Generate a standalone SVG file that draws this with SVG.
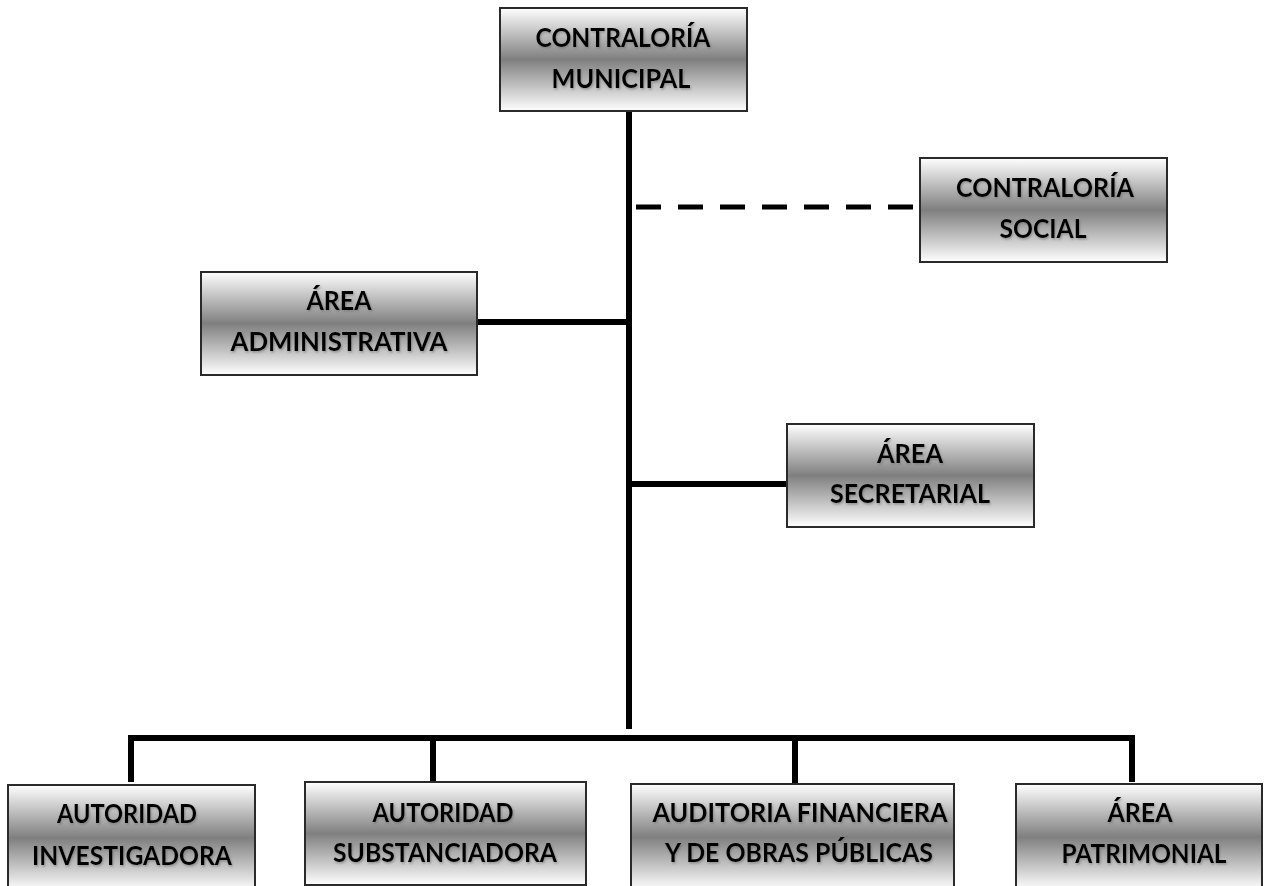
<svg xmlns="http://www.w3.org/2000/svg" width="1264" height="886" viewBox="0 0 1264 886">
<defs>
<linearGradient id="g" x1="0" y1="0" x2="0" y2="1">
<stop offset="0" stop-color="#ffffff"/>
<stop offset="0.5" stop-color="#7f7f7f"/>
<stop offset="1" stop-color="#ffffff"/>
</linearGradient>
<filter id="ts" x="-5%" y="-20%" width="110%" height="140%">
<feDropShadow dx="1" dy="1.5" stdDeviation="0.8" flood-color="#666" flood-opacity="0.55"/>
</filter>
</defs>
<style>
.box{fill:url(#g);stroke:#2a2a2a;stroke-width:2}
.t{font-family:Lato,"Open Sans","Liberation Sans",sans-serif;font-weight:bold;font-size:27px;fill:#000;text-anchor:middle;filter:url(#ts)}
.ln{stroke:#000;stroke-width:6;fill:none}
.dash{stroke:#000;stroke-width:5;fill:none;stroke-dasharray:25 17}
</style>
<rect width="1264" height="886" fill="#ffffff"/>
<g id="connectors">
<line class="ln" x1="629" y1="110" x2="629" y2="729"/>
<line class="dash" x1="636" y1="207" x2="920" y2="207"/>
<line class="ln" x1="477" y1="322" x2="629" y2="322"/>
<line class="ln" x1="629" y1="484" x2="787" y2="484"/>
<polyline class="ln" points="131,782 131,738 1132,738 1132,782"/>
<line class="ln" x1="433" y1="738" x2="433" y2="782"/>
<line class="ln" x1="795" y1="738" x2="795" y2="784"/>
</g>
<g id="contraloria-municipal">
<rect class="box" x="500" y="8" width="247" height="103"/>
<text class="t" x="623" y="47" textLength="175" lengthAdjust="spacingAndGlyphs">CONTRALORÍA</text>
<text class="t" x="621" y="88" textLength="139" lengthAdjust="spacingAndGlyphs">MUNICIPAL</text>
</g>
<g id="contraloria-social">
<rect class="box" x="920" y="158" width="247" height="104"/>
<text class="t" x="1045" y="197" textLength="178" lengthAdjust="spacingAndGlyphs">CONTRALORÍA</text>
<text class="t" x="1043" y="238" textLength="87" lengthAdjust="spacingAndGlyphs">SOCIAL</text>
</g>
<g id="area-administrativa">
<rect class="box" x="201" y="272" width="276" height="103"/>
<text class="t" x="339" y="310" textLength="65" lengthAdjust="spacingAndGlyphs">ÁREA</text>
<text class="t" x="339" y="351" textLength="217" lengthAdjust="spacingAndGlyphs">ADMINISTRATIVA</text>
</g>
<g id="area-secretarial">
<rect class="box" x="787" y="424" width="247" height="103"/>
<text class="t" x="910" y="463" textLength="66" lengthAdjust="spacingAndGlyphs">ÁREA</text>
<text class="t" x="910" y="503" textLength="160" lengthAdjust="spacingAndGlyphs">SECRETARIAL</text>
</g>
<g id="autoridad-investigadora">
<rect class="box" x="8" y="785" width="247" height="106"/>
<text class="t" x="127" y="823" textLength="140" lengthAdjust="spacingAndGlyphs">AUTORIDAD</text>
<text class="t" x="132" y="865" textLength="200" lengthAdjust="spacingAndGlyphs">INVESTIGADORA</text>
</g>
<g id="autoridad-substanciadora">
<rect class="box" x="305" y="782" width="281" height="103"/>
<text class="t" x="443" y="822" textLength="141" lengthAdjust="spacingAndGlyphs">AUTORIDAD</text>
<text class="t" x="445" y="862" textLength="224" lengthAdjust="spacingAndGlyphs">SUBSTANCIADORA</text>
</g>
<g id="auditoria-financiera">
<rect class="box" x="631" y="784" width="323" height="106"/>
<text class="t" x="800" y="822" textLength="295" lengthAdjust="spacingAndGlyphs">AUDITORIA FINANCIERA</text>
<text class="t" x="799" y="862" textLength="268" lengthAdjust="spacingAndGlyphs">Y DE OBRAS PÚBLICAS</text>
</g>
<g id="area-patrimonial">
<rect class="box" x="1016" y="784" width="246" height="106"/>
<text class="t" x="1140" y="822" textLength="65" lengthAdjust="spacingAndGlyphs">ÁREA</text>
<text class="t" x="1144" y="863" textLength="165" lengthAdjust="spacingAndGlyphs">PATRIMONIAL</text>
</g>
</svg>
